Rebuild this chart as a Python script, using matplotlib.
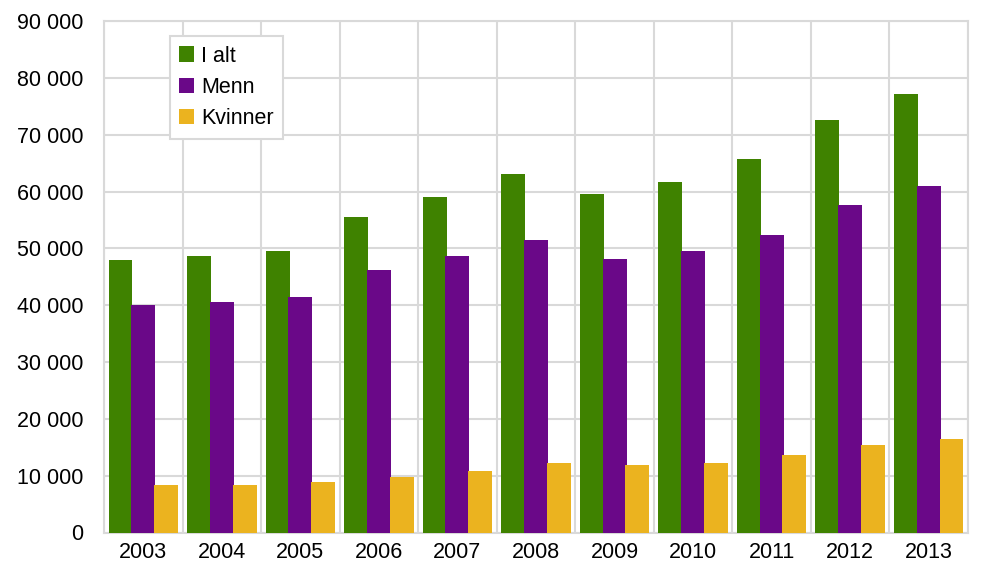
import numpy as np
import matplotlib.pyplot as plt
from matplotlib.ticker import FuncFormatter

plt.rcParams['font.family'] = ['Liberation Sans', 'DejaVu Sans']

# years on the x axis
years = ['2003', '2004', '2005', '2006', '2007', '2008', '2009', '2010', '2011', '2012', '2013']

# values
i_alt = [47900, 48600, 49600, 55600, 59100, 63000, 59500, 61600, 65800, 72600, 77100]
menn = [40100, 40500, 41500, 46100, 48600, 51400, 48200, 49600, 52400, 57700, 60900]
kvinner = [8400, 8400, 8800, 9800, 10800, 12200, 11900, 12200, 13600, 15400, 16400]

series_names = ['I alt', 'Menn', 'Kvinner']
bar_colors = ['#3f8200', '#6a0888', '#ebb31f']
grid_color = '#d9d9d9'

fig = plt.figure(figsize=(9.85, 5.63), dpi=100)
ax = fig.add_axes([104/985, 1 - 532.5/563, 864/985, 511.5/563])

x = np.arange(len(years))
w = 0.305
offs = [-0.29, 0.0, 0.29]
for vals, off, c, name in zip([i_alt, menn, kvinner], offs, bar_colors, series_names):
    ax.bar(x + off, vals, width=w, color=c, label=name, zorder=3)

ax.set_xlim(-0.5, len(years) - 0.5)
ax.set_ylim(0, 90000)
ax.set_yticks(np.arange(0, 90001, 10000))
ax.yaxis.set_major_formatter(FuncFormatter(lambda v, p: f'{int(v):,}'.replace(',', ' ')))
ax.set_xticks(x)
ax.set_xticklabels(years)

# vertical lines between the year groups
ax.set_xticks(np.arange(-0.5, len(years)), minor=True)
ax.grid(True, which='minor', axis='x', color=grid_color, lw=1.5, zorder=0)
ax.grid(True, which='major', axis='y', color=grid_color, lw=1.5, zorder=0)
ax.tick_params(axis='both', which='both', length=0, labelsize=15.5, colors='black')
ax.tick_params(axis='y', pad=15)
ax.tick_params(axis='x', pad=7)
for s in ax.spines.values():
    s.set_color(grid_color)
    s.set_linewidth(1.5)

leg = ax.legend(loc='upper left', bbox_to_anchor=(0.076, 0.971), fontsize=15.5,
                frameon=True, fancybox=False, framealpha=1, edgecolor=grid_color,
                handlelength=0.7, handleheight=0.7, handletextpad=0.3,
                labelspacing=0.48, borderpad=0.45, borderaxespad=0)
leg.get_frame().set_linewidth(1.5)
leg.set_zorder(5)

fig.savefig('out.png', dpi=100)
